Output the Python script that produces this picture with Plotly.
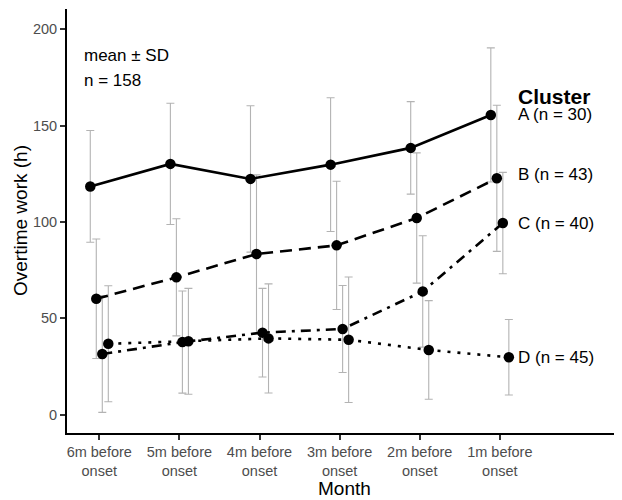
import plotly.graph_objects as go

months = ["6m before<br>onset", "5m before<br>onset", "4m before<br>onset",
          "3m before<br>onset", "2m before<br>onset", "1m before<br>onset"]
clusters = ["A", "B", "C", "D"]
cluster_n = [30, 43, 40, 45]

mean_A = [118.5, 130.2, 122.4, 129.8, 138.5, 155.6]
sd_A = [29.0, 31.5, 38.0, 34.7, 24.0, 34.8]
mean_B = [60.2, 71.3, 83.4, 87.9, 102.1, 122.7]
sd_B = [31.0, 30.4, 41.1, 33.3, 33.8, 37.9]
mean_C = [31.5, 37.7, 42.6, 44.5, 64.0, 99.5]
sd_C = [30.3, 26.5, 23.0, 22.6, 28.9, 26.3]
mean_D = [36.8, 38.1, 39.6, 38.9, 33.6, 29.8]
sd_D = [30.1, 27.5, 28.3, 32.6, 25.6, 19.6]

total_n = 158

means = [mean_A, mean_B, mean_C, mean_D]
sds = [sd_A, sd_B, sd_C, sd_D]
dashes = ["solid", "12px,7px", "10px,6px,3px,6px", "3px,7px"]
dodge = [-0.1125, -0.0375, 0.0375, 0.1125]

FONT = "Liberation Sans, Arial, sans-serif"

fig = go.Figure()

# error bars (behind lines)
for k in range(4):
    xs = [i + dodge[k] for i in range(len(months))]
    fig.add_trace(go.Scatter(
        x=xs, y=means[k], mode="markers",
        marker=dict(size=1, opacity=0),
        error_y=dict(type="data", array=sds[k], visible=True,
                     color="#b3b3b3", thickness=1.1, width=4),
        showlegend=False, hoverinfo="skip"))

# lines + points
for k in range(4):
    xs = [i + dodge[k] for i in range(len(months))]
    fig.add_trace(go.Scatter(
        x=xs, y=means[k], mode="lines+markers",
        line=dict(color="black", width=2.6, dash=dashes[k]),
        marker=dict(color="black", size=10.5),
        name=clusters[k], showlegend=False))

# cluster labels
for k in range(4):
    fig.add_annotation(
        x=5.2, y=means[k][-1], xref="x", yref="y",
        text=f"{clusters[k]} (n = {cluster_n[k]})",
        showarrow=False, xanchor="left", yanchor="middle",
        yshift=4 if k == 1 else 0,
        font=dict(family=FONT, size=17, color="black"))

fig.add_annotation(x=5.2, y=165, xref="x", yref="y", text="<b>Cluster</b>",
                   showarrow=False, xanchor="left", yanchor="middle",
                   font=dict(family=FONT, size=21, color="black"))
fig.add_annotation(x=-0.21, y=186.7, xref="x", yref="y", text="mean ± SD",
                   showarrow=False, xanchor="left", yanchor="middle",
                   font=dict(family=FONT, size=17, color="black"))
fig.add_annotation(x=-0.21, y=173.7, xref="x", yref="y", text=f"n = {total_n}",
                   showarrow=False, xanchor="left", yanchor="middle",
                   font=dict(family=FONT, size=17, color="black"))

# axis titles
fig.add_annotation(x=0.5, y=0, xref="paper", yref="paper", text="Month",
                   showarrow=False, xanchor="center", yanchor="middle",
                   yshift=-55, font=dict(family=FONT, size=19, color="black"))
fig.add_annotation(x=0, y=0.5, xref="paper", yref="paper",
                   text="Overtime work (h)", textangle=-90,
                   showarrow=False, xanchor="center", yanchor="middle",
                   xshift=-47, font=dict(family=FONT, size=19, color="black"))

# page body has an 8px default margin: figure is offset by 8px
fig.update_layout(
    width=614, height=492,
    margin=dict(l=59, r=0, t=1, b=67),
    plot_bgcolor="white", paper_bgcolor="white",
    font=dict(family=FONT),
    xaxis=dict(
        range=[-0.403, 6.525], tickmode="array",
        tickvals=list(range(len(months))), ticktext=months,
        showgrid=False, zeroline=False, automargin=False,
        showline=True, linecolor="black", linewidth=2,
        ticks="outside", ticklen=5, tickwidth=1.5, tickcolor="#333333",
        tickfont=dict(family=FONT, size=14.5, color="#4d4d4d"),
    ),
    yaxis=dict(
        range=[-9.5, 210.6], tickmode="array",
        tickvals=[0, 50, 100, 150, 200],
        showgrid=False, zeroline=False, automargin=False,
        showline=True, linecolor="black", linewidth=2,
        ticks="outside", ticklen=5, tickwidth=1.5, tickcolor="#333333",
        tickfont=dict(family=FONT, size=14.5, color="#4d4d4d"),
    ),
)

fig.write_html("out.html")
